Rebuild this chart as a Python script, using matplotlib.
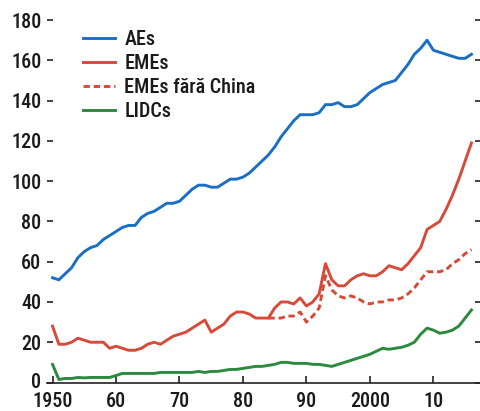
import matplotlib
matplotlib.use("Agg")
import matplotlib.pyplot as plt
import matplotlib.transforms as mtransforms
import numpy as np

plt.rcParams['font.family'] = ['Roboto Condensed', 'Roboto', 'DejaVu Sans']
plt.rcParams['font.stretch'] = 'condensed'
plt.rcParams['font.weight'] = 500

years = list(range(1950, 2017))
aes = [52, 51, 54, 57, 62, 65, 67, 68, 71, 73,
       75, 77, 78, 78, 82, 84, 85, 87, 89, 89,
       90, 93, 96, 98, 98, 97, 97, 99, 101, 101,
       102, 104, 107, 110, 113, 117, 122, 126, 130, 133,
       133, 133, 134, 138, 138, 139, 137, 137, 138, 141,
       144, 146, 148, 149, 150, 154, 158, 163, 166, 170,
       165, 164, 163, 162, 161, 161, 163]
emes = [28, 19, 19, 20, 22, 21, 20, 20, 20, 17,
        18, 17, 16, 16, 17, 19, 20, 19, 21, 23,
        24, 25, 27, 29, 31, 25, 27, 29, 33, 35,
        35, 34, 32, 32, 32, 37, 40, 40, 39, 42,
        38, 40, 44, 59, 51, 48, 48, 51, 53, 54,
        53, 53, 55, 58, 57, 56, 59, 63, 67, 76,
        78, 80, 86, 93, 101, 110, 119]
years_exchina = list(range(1984, 2017))
emes_exchina = [32, 32, 32, 33, 33, 35, 30, 33, 37, 53,
                46, 43, 42, 43, 42, 40, 39, 40, 40, 41,
                41, 42, 44, 47, 51, 55, 55, 55, 56, 59,
                61, 64, 66]
lidcs = [9, 1.5, 2, 2, 2.5, 2.3, 2.5, 2.5, 2.5, 2.5,
         3.5, 4.5, 4.5, 4.5, 4.5, 4.5, 4.5, 5, 5, 5,
         5, 5, 5, 5.5, 5, 5.5, 5.5, 6, 6.5, 6.5,
         7, 7.5, 8, 8, 8.5, 9, 10, 10, 9.5, 9.5,
         9.5, 9, 9, 8.5, 8, 9, 10, 11, 12, 13,
         14, 15.5, 17, 16.5, 17, 17.5, 18.5, 20, 24, 27,
         26, 24.5, 25, 26, 28, 32, 36]

xticks = [1950, 1960, 1970, 1980, 1990, 2000, 2010]
xticklabels = ['1950', '60', '70', '80', '90', '2000', '10']
yticks = [0, 20, 40, 60, 80, 100, 120, 140, 160, 180]

W, H = 481, 411
fig = plt.figure(figsize=(W / 100, H / 100), dpi=100)
ax = fig.add_axes([47 / W, (H - 382.5) / H, (481 - 47) / W, (382.5 - 10) / H])

blue = '#1a6fc4'
red = '#d64a3a'
green = '#2b8a3e'
lw = 2.1

ax.plot(years, aes, color=blue, lw=lw, label='AEs', solid_joinstyle='round')
ax.plot(years, emes, color=red, lw=lw, label='EMEs', solid_joinstyle='round')
ax.plot(years_exchina, emes_exchina, color=red, lw=lw, ls=(0, (2.2, 1.3)),
        label='EMEs fără China')
ax.plot(years, lidcs, color=green, lw=lw, label='LIDCs', solid_joinstyle='round')

ax.set_xlim(1949.13, 2017.5)
ax.set_ylim(0, 185)
ax.set_xticks(xticks)
ax.set_xticklabels(xticklabels)
ax.set_yticks(yticks)

for s in ['left', 'right', 'top']:
    ax.spines[s].set_visible(False)
ax.spines['bottom'].set_linewidth(1.2)
ax.spines['bottom'].set_color('#222222')

ax.tick_params(axis='x', direction='in', length=5, width=1.2, color='#222222',
               labelsize=14.5, pad=6.5, labelcolor='#1a1a1a')
ax.tick_params(axis='y', direction='in', length=4.5, width=1.2, color='#222222',
               labelsize=14.5, pad=4, labelcolor='#1a1a1a', right=True, labelright=False)

# nudge the "0" label up slightly so it doesn't collide with "1950"
fig.canvas.draw()
zero_lbl = ax.get_yticklabels()[0]
zero_lbl.set_transform(zero_lbl.get_transform() +
                       mtransforms.ScaledTranslation(0, 2 / 100, fig.dpi_scale_trans))

leg = ax.legend(loc='upper left', bbox_to_anchor=((83 - 47) / (481 - 47), 1 - (30 - 10) / (382.5 - 10)),
                frameon=False, fontsize=14.5, handlelength=1.6, handletextpad=0.45,
                labelspacing=0.25, borderpad=0, borderaxespad=0)
for t in leg.get_texts():
    t.set_color('#1a1a1a')

fig.savefig('out.png', dpi=100)
